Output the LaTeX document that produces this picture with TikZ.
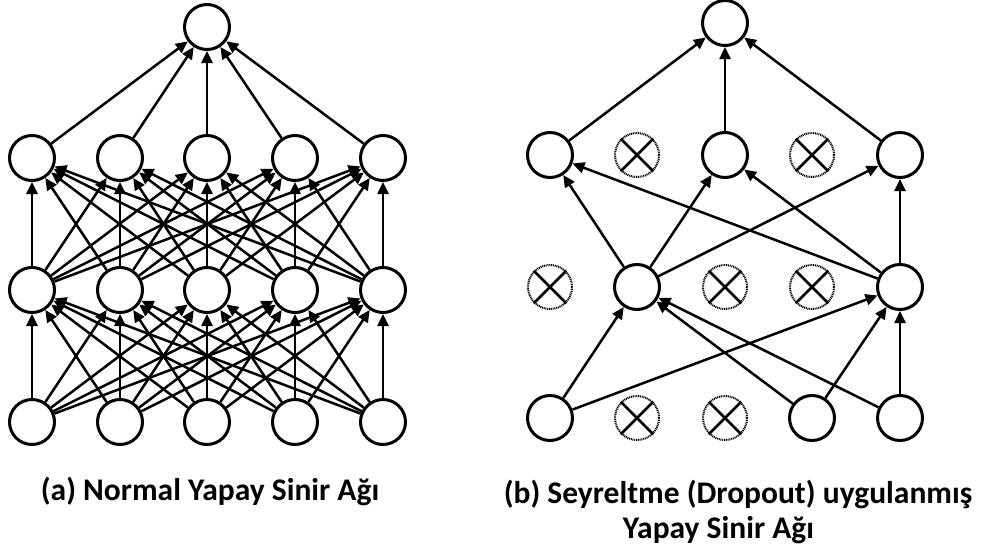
\documentclass[tikz,border=0pt]{standalone}
\usepackage{fontspec}
\setmainfont{Carlito}
\usetikzlibrary{arrows.meta}

\begin{document}
\begin{tikzpicture}[x=1pt,y=-1pt,
  neuron/.style={circle, draw, line width=3pt, minimum size=45pt, inner sep=0pt, fill=white},
  dropped/.style={circle, draw, line width=2pt, dash pattern=on 1pt off 0.8pt,
    minimum size=44pt, inner sep=0pt, fill=white},
  cross/.style={line width=2.6pt},
  link/.style={line width=2.5pt, -{Triangle[length=12pt,width=11pt]}},
  caption/.style={font=\bfseries\fontsize{31.5}{35}\selectfont, anchor=base, inner sep=0pt}
]
\useasboundingbox (0,0) rectangle (984,546);

% (a) fully connected network
\foreach \i/\x in {1/32,2/120,3/207,4/295,5/383} {
  \node[neuron] (ai\i) at (\x,422) {};
  \node[neuron] (ah\i) at (\x,290) {};
  \node[neuron] (ag\i) at (\x,158) {};
}
\node[neuron] (ao) at (207,27) {};
\foreach \i in {1,...,5} {
  \foreach \j in {1,...,5} {
    \draw[link] (ai\i) -- (ah\j);
    \draw[link] (ah\i) -- (ag\j);
  }
  \draw[link] (ag\i) -- (ao);
}

% (b) network with dropped units
\node[neuron]  (bi1) at (550,418) {};
\node[dropped] (bi2) at (637,418) {};
\node[dropped] (bi3) at (725,418) {};
\node[neuron]  (bi4) at (812,418) {};
\node[neuron]  (bi5) at (900,418) {};
\node[dropped] (bh1) at (550,287) {};
\node[neuron]  (bh2) at (637,287) {};
\node[dropped] (bh3) at (725,287) {};
\node[dropped] (bh4) at (812,287) {};
\node[neuron]  (bh5) at (900,287) {};
\node[neuron]  (bg1) at (550,155) {};
\node[dropped] (bg2) at (637,155) {};
\node[neuron]  (bg3) at (725,155) {};
\node[dropped] (bg4) at (812,155) {};
\node[neuron]  (bg5) at (900,155) {};
\node[neuron]  (bo)  at (725,23) {};

\foreach \d in {bi2,bi3,bh1,bh3,bh4,bg2,bg4} {
  \draw[cross] (\d.north west) -- (\d.south east);
  \draw[cross] (\d.north east) -- (\d.south west);
}

\foreach \s in {bi1,bi4,bi5} {
  \foreach \t in {bh2,bh5} { \draw[link] (\s) -- (\t); }
}
\foreach \s in {bh2,bh5} {
  \foreach \t in {bg1,bg3,bg5} { \draw[link] (\s) -- (\t); }
}
\foreach \s in {bg1,bg3,bg5} { \draw[link] (\s) -- (bo); }

% captions
\node[caption] (capa)  at (210,500) {(a) Normal Yapay Sinir Ağı};
\node[caption] (capb1) at (738,503) {(b) Seyreltme (Dropout) uygulanmış};
\node[caption] (capb2) at (718.5,538) {Yapay Sinir Ağı};
\end{tikzpicture}
\end{document}
